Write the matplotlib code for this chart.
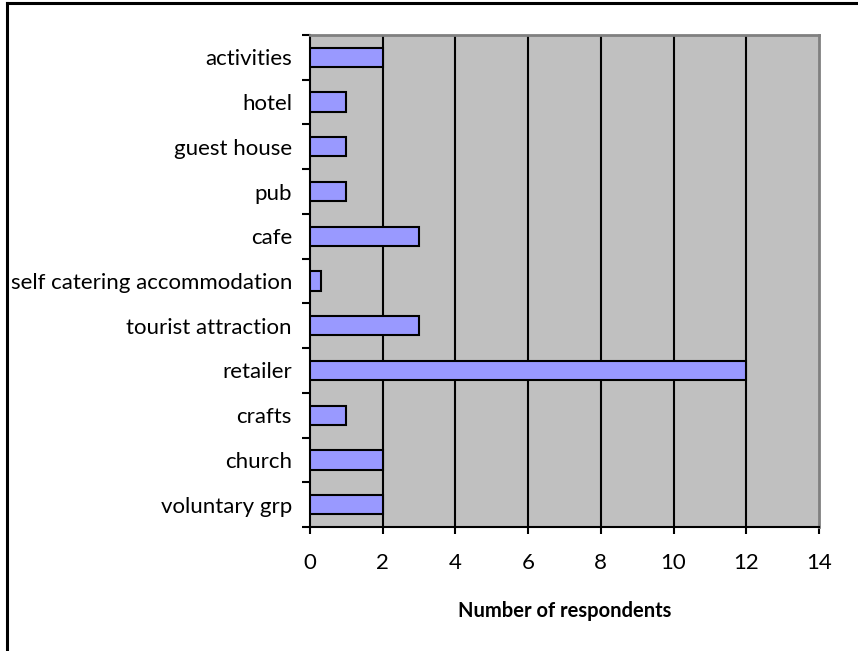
import matplotlib
matplotlib.use("Agg")
import matplotlib.pyplot as plt
from matplotlib.lines import Line2D
import numpy as np

plt.rcParams['font.family'] = ['Lato', 'DejaVu Sans']

categories = ["activities", "hotel", "guest house", "pub", "cafe",
              "self catering accommodation", "tourist attraction", "retailer",
              "crafts", "church", "voluntary grp"]
respondents = [2, 1, 1, 1, 3, 0.3, 3, 12, 1, 2, 2]
x_ticks = [0, 2, 4, 6, 8, 10, 12, 14]

W, H = 858, 651
fig = plt.figure(figsize=(W / 100, H / 100), dpi=100)
ax = fig.add_axes([310 / W, 1 - 527 / H, 509 / W, 492 / H])

n = len(categories)
ypos = np.arange(n)[::-1]
ax.set_facecolor("#c0c0c0")
ax.barh(ypos, respondents, height=0.43, color="#9999ff",
        edgecolor="black", linewidth=1.5, zorder=3)

ax.set_xlim(0, 14)
ax.set_ylim(-0.5, n - 0.5)
ax.set_xticks(x_ticks)
ax.set_xticklabels([str(t) for t in x_ticks])
for t in x_ticks[1:-1]:
    ax.axvline(t, color="black", linewidth=1.5, zorder=2)

ax.set_yticks(ypos)
ax.set_yticklabels(categories)
ax.set_yticks(np.arange(n + 1) - 0.5, minor=True)
ax.tick_params(axis="y", which="major", length=0, pad=13, labelsize=16)
ax.tick_params(axis="y", which="minor", length=6, width=1.5, direction="out")
ax.tick_params(axis="x", which="major", length=5, width=1.5, direction="out",
               pad=14, labelsize=16)

for side in ("left", "bottom"):
    ax.spines[side].set_color("black")
    ax.spines[side].set_linewidth(1.5)
for side in ("top", "right"):
    ax.spines[side].set_color("#808080")
    ax.spines[side].set_linewidth(2)

ax.set_xlabel("Number of respondents", fontsize=14.5, fontweight="bold",
              labelpad=20)

# chart frame
fig.add_artist(Line2D([7 / W, 7 / W], [0, 1 - 3 / H], color="black",
                      linewidth=2.2, transform=fig.transFigure))
fig.add_artist(Line2D([7 / W, 1], [1 - 3 / H, 1 - 3 / H], color="black",
                      linewidth=2.2, transform=fig.transFigure))

fig.savefig("out.png", dpi=100)
